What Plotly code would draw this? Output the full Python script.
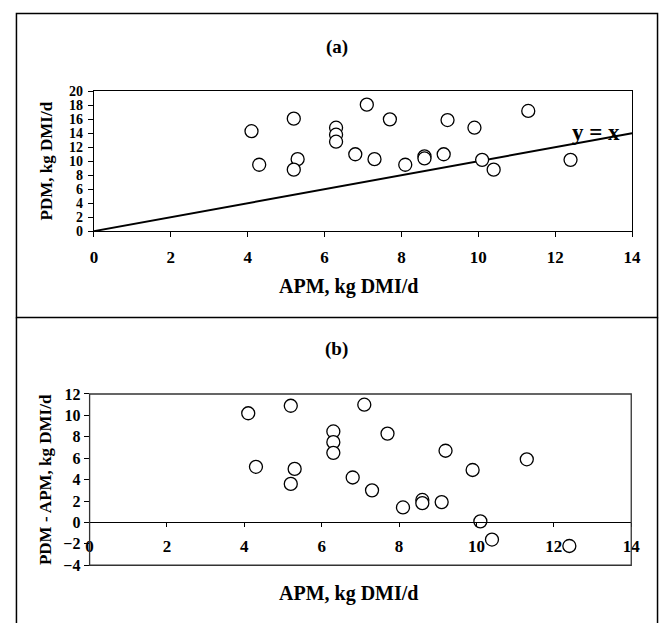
import plotly.graph_objects as go

# ---- data ----
apm = [4.1, 4.3, 5.2, 5.3, 5.2, 6.3, 6.3, 6.3, 6.8, 7.1, 7.3, 7.7, 8.1,
       8.6, 8.6, 9.1, 9.2, 9.9, 10.1, 10.4, 11.3, 12.4]
pdm = [14.3, 9.5, 16.1, 10.3, 8.8, 14.8, 13.8, 12.8, 11.0, 18.1, 10.3, 16.0, 9.5,
       10.7, 10.4, 11.0, 15.9, 14.8, 10.2, 8.8, 17.2, 10.2]
diff = [p - a for p, a in zip(pdm, apm)]
line_x = [0, 14]
line_y = [0, 14]
x_ticks = [0, 2, 4, 6, 8, 10, 12, 14]
y_ticks_a = [0, 2, 4, 6, 8, 10, 12, 14, 16, 18, 20]
y_ticks_b = [-4, -2, 0, 2, 4, 6, 8, 10, 12]

W, H = 668, 630
FONT = "Liberation Serif"


def px(x):
    return x / W


def py(y):
    return 1 - y / H


marker = dict(symbol="circle", size=13, color="white",
              line=dict(color="black", width=1.3))

fig = go.Figure()
fig.add_trace(go.Scatter(x=line_x, y=line_y, mode="lines",
                         line=dict(color="black", width=2), xaxis="x", yaxis="y",
                         showlegend=False, hoverinfo="skip"))
fig.add_trace(go.Scatter(x=apm, y=pdm, mode="markers", marker=marker,
                         xaxis="x", yaxis="y", showlegend=False))
fig.add_trace(go.Scatter(x=apm, y=diff, mode="markers", marker=marker,
                         xaxis="x2", yaxis="y2", showlegend=False, cliponaxis=False))

xtickfont = dict(family=FONT, size=17, color="black", weight="bold")
ytickfont_a = dict(family=FONT, size=14, color="black", weight="bold")
ytickfont_b = dict(family=FONT, size=16, color="black", weight="bold")

common_x = dict(range=[0, 14], tickmode="array", tickvals=x_ticks,
                showgrid=False, zeroline=False, showline=True, linecolor="black",
                linewidth=1, ticks="outside", ticklen=5, tickcolor="black",
                tickfont=xtickfont)
common_y = dict(showgrid=False, zeroline=False, showline=True, linecolor="black",
                linewidth=1, ticks="outside", ticklen=5, tickcolor="black",
                tickmode="array")

# pixel geometry
a_dom_x = [px(91.7), px(640.5)]
a_dom_y = [py(229.3), py(85.7)]
b_dom_x = [px(87.3), px(639.7)]
b_dom_y = [py(572.7), py(396.7)]
b_zero = py(528.7)

fig.update_layout(
    width=W, height=H,
    margin=dict(l=0, r=0, t=0, b=0),
    paper_bgcolor="white", plot_bgcolor="white",
    font=dict(family=FONT, color="black"),
    xaxis=dict(**common_x, domain=a_dom_x, anchor="y", mirror=True,
               ticklabelstandoff=5),
    yaxis=dict(**common_y, range=[0, 20], tickvals=y_ticks_a, domain=a_dom_y,
               anchor="x", mirror=True, ticklabelstandoff=2, tickfont=ytickfont_a),
    xaxis2=dict(**common_x, domain=b_dom_x, anchor="free", position=b_zero,
                ticklabelstandoff=4),
    yaxis2=dict(**common_y, range=[-4, 12], tickvals=y_ticks_b, domain=b_dom_y,
                anchor="x2", ticklabelstandoff=0, tickfont=ytickfont_b),
)
fig.update_layout(xaxis2=dict(ticklen=4))

shapes = [
    # outer frames
    dict(type="rect", xref="paper", yref="paper", x0=px(12.7), x1=px(666.5),
         y0=py(318), y1=py(5.7), line=dict(color="black", width=1.5)),
    dict(type="line", xref="paper", yref="paper", x0=px(12.7), x1=px(12.7),
         y0=py(318), y1=py(632), line=dict(color="black", width=1.5)),
    dict(type="line", xref="paper", yref="paper", x0=px(666.5), x1=px(666.5),
         y0=py(318), y1=py(632), line=dict(color="black", width=1.5)),
    # frame of panel (b) plot area
    dict(type="rect", xref="x2 domain", yref="y2 domain", x0=0, x1=1, y0=0, y1=1,
         line=dict(color="#333333", width=1.3)),
]
fig.update_layout(shapes=shapes)

title_font = dict(family=FONT, size=19, color="black", weight="bold")
xtitle_font = dict(family=FONT, size=20, color="black", weight="bold")
ytitle_font = dict(family=FONT, size=17, color="black", weight="bold")
ann = [
    dict(text="(a)", x=px(339.5), y=py(40), font=title_font),
    dict(text="(b)", x=px(339.5), y=py(350), font=title_font),
    dict(text="APM, kg DMI/d", x=px(351.5), y=py(286), font=xtitle_font),
    dict(text="APM, kg DMI/d", x=px(351.5), y=py(602), font=xtitle_font),
    dict(text="PDM, kg DMI/d", x=px(43), y=py(157.5), textangle=-90, font=ytitle_font),
    dict(text="PDM - APM, kg DMI/d", x=px(43), y=py(485), textangle=-90,
         font=ytitle_font),
]
annotations = []
for a in ann:
    d = dict(xref="paper", yref="paper", showarrow=False, xanchor="center",
             yanchor="middle")
    d.update(a)
    annotations.append(d)
annotations.append(dict(text="y = x", xref="x", yref="y", x=13.05, y=14.1,
                        showarrow=False, xanchor="center", yanchor="middle",
                        font=dict(family=FONT, size=23, color="black", weight="bold")))
fig.update_layout(annotations=annotations)

fig.write_html("out.html", config={"displayModeBar": False},
               post_script="document.body.style.margin='0';"
                           "document.body.style.padding='0';")
